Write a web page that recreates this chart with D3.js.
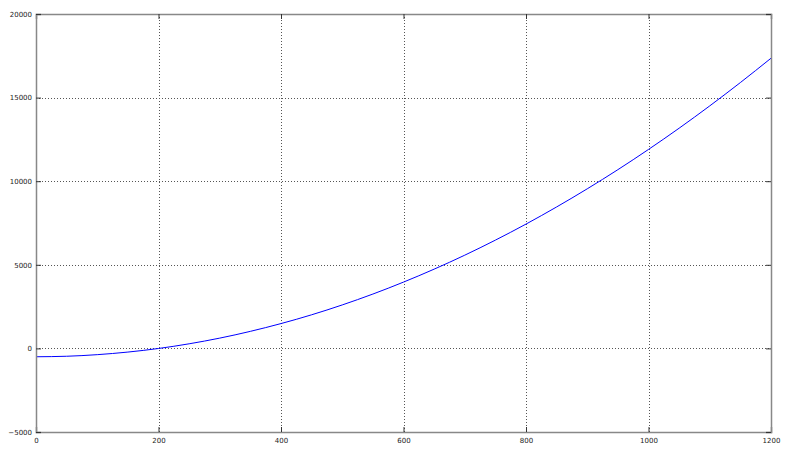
<!DOCTYPE html>
<html>
<head>
<meta charset="utf-8">
<script src="https://cdn.jsdelivr.net/npm/d3@7"></script>
<style>
  body { margin: 0; background: #fff; }
  svg text { font-family: "DejaVu Sans", sans-serif; font-size: 7px; fill: #222; }
</style>
</head>
<body>
<svg id="plot" width="800" height="460"></svg>
<script>
// values
const xs = [0, 50, 100, 150, 200, 250, 300, 350, 400, 450, 500, 550, 600,
            650, 700, 750, 800, 850, 900, 950, 1000, 1050, 1100, 1150, 1200];
const ys = [-500, -470, -375, -220, -5, 275, 615, 1020, 1485, 2010, 2600, 3250, 3965,
            4740, 5575, 6475, 7435, 8460, 9545, 10690, 11900, 13170, 14505, 15900, 17355];
const xTicks = [0, 200, 400, 600, 800, 1000, 1200];
const yTicks = [-5000, 0, 5000, 10000, 15000, 20000];

const margin = {left: 36, right: 29, top: 14, bottom: 28};
const width = 800 - margin.left - margin.right;
const height = 460 - margin.top - margin.bottom;

const svg = d3.select('#plot');
const g = svg.append('g').attr('transform', `translate(${margin.left},${margin.top})`);

const x = d3.scaleLinear().domain([0, 1200]).range([0, width]);
const y = d3.scaleLinear().domain([-5000, 20000]).range([height, 0]);

// grid
g.append('g').selectAll('line')
  .data(xTicks.slice(1, -1))
  .enter().append('line')
  .attr('x1', d => Math.round(x(d)) + 0.5).attr('x2', d => Math.round(x(d)) + 0.5)
  .attr('y1', 0).attr('y2', height)
  .attr('stroke', '#555').attr('stroke-dasharray', '1,2').attr('stroke-width', 1);
g.append('g').selectAll('line')
  .data(yTicks.slice(1, -1))
  .enter().append('line')
  .attr('y1', d => Math.round(y(d)) + 0.5).attr('y2', d => Math.round(y(d)) + 0.5)
  .attr('x1', 0).attr('x2', width)
  .attr('stroke', '#555').attr('stroke-dasharray', '1,2').attr('stroke-width', 1);

// curve
const line = d3.line()
  .x((d, i) => x(xs[i]))
  .y(d => y(d))
  .curve(d3.curveMonotoneX);
g.append('path')
  .datum(ys)
  .attr('d', line)
  .attr('fill', 'none')
  .attr('stroke', '#0000ff')
  .attr('stroke-width', 1);

// axes: ticks pointing inward on all four sides
g.append('g').attr('transform', `translate(0,${height})`)
  .call(d3.axisBottom(x).tickValues(xTicks).tickSize(-5).tickPadding(6).tickFormat(d3.format('d')));
g.append('g')
  .call(d3.axisTop(x).tickValues(xTicks).tickSize(-5).tickFormat(''));
g.append('g')
  .call(d3.axisLeft(y).tickValues(yTicks).tickSize(-5).tickPadding(4).tickFormat(d3.format('d')));
g.append('g').attr('transform', `translate(${width},0)`)
  .call(d3.axisRight(y).tickValues(yTicks).tickSize(-5).tickFormat(''));

g.selectAll('.domain').attr('stroke', '#888').attr('stroke-width', 1.5);
g.selectAll('.tick line').attr('stroke', '#333');
g.selectAll('.tick text').style('font-size', '7px').attr('fill', '#222');
</script>
</body>
</html>
